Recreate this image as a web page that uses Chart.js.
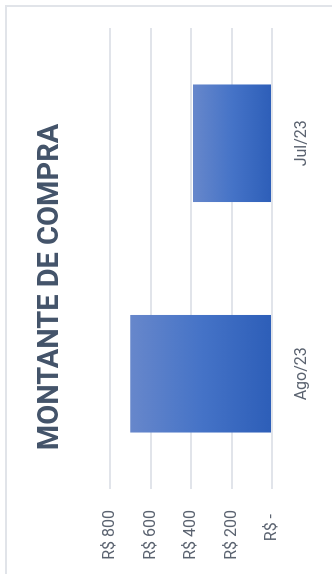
<!DOCTYPE html>
<html>
<head>
<meta charset="utf-8">
<script src="https://cdn.jsdelivr.net/npm/chart.js@4/dist/chart.umd.min.js"></script>
<style>
  html, body { margin: 0; padding: 0; background: #ffffff; overflow: hidden; }
  body { width: 332px; height: 574px; position: relative; }
  #frame {
    position: absolute; left: 5px; top: 5px; width: 420px; height: 700px;
    border: 2px solid #e1e4e9; box-sizing: border-box;
  }
  /* chart is drawn upright then turned a quarter turn to the left */
  #holder {
    position: absolute; left: 0; top: 574px; width: 574px; height: 332px;
    transform-origin: 0 0; transform: rotate(-90deg);
  }
</style>
</head>
<body>
<div id="frame"></div>
<div id="holder"><canvas id="myChart" width="574" height="332"></canvas></div>
<script>
// data
const months = ['Ago/23', 'Jul/23'];
const amounts = [700, 390];
const valueTicks = [0, 200, 400, 600, 800];

const fontFamily = "Roboto, 'Liberation Sans', sans-serif";

function barGradient(context) {
  const chart = context.chart;
  if (!chart.chartArea || context.type !== 'data') return '#4472c4';
  const yScale = chart.scales.y;
  const base = yScale.getPixelForValue(0);
  const top = yScale.getPixelForValue(context.raw);
  const g = chart.ctx.createLinearGradient(0, base, 0, top);
  g.addColorStop(0, '#2d5eb8');
  g.addColorStop(0.5, '#4573c7');
  g.addColorStop(1, '#6787cb');
  return g;
}

function moneyLabel(v) {
  if (v === 0) return 'R$ - ';
  return 'R$ ' + v;
}

const config = {
  type: 'bar',
  data: {
    labels: months,
    datasets: [{
      label: 'Montante de compra',
      data: amounts,
      backgroundColor: barGradient,
      borderWidth: 0,
      barPercentage: 0.51,
      categoryPercentage: 1
    }]
  },
  options: {
    responsive: false,
    animation: false,
    devicePixelRatio: 1,
    layout: { padding: 0 },
    plugins: {
      legend: { display: false },
      tooltip: { enabled: false },
      title: {
        display: true,
        text: 'MONTANTE DE COMPRA',
        color: '#44546a',
        font: { family: fontFamily, size: 29, weight: 'bold', lineHeight: 1.2 },
        padding: { top: 33.6, bottom: 41.6 }
      }
    },
    scales: {
      x: {
        grid: { display: false, drawTicks: false },
        border: { display: false },
        ticks: {
          color: '#5b6370',
          padding: 20,
          maxRotation: 0,
          font: { family: fontFamily, size: 16 }
        },
        afterFit: function(axis) { axis.height = 60; }
      },
      y: {
        min: 0,
        max: 800,
        afterBuildTicks: function(axis) {
          axis.ticks = valueTicks.map(v => ({ value: v }));
        },
        grid: { color: '#e1e4ea', lineWidth: 2, drawTicks: false },
        border: { display: false },
        ticks: {
          color: '#5b6370',
          padding: 21,
          font: { family: fontFamily, size: 16 },
          callback: moneyLabel
        },
        afterFit: function(axis) { axis.width = 85; }
      },
      // empty strip on the right, keeps the plot narrower than the title
      spacer: {
        type: 'linear',
        position: 'right',
        display: true,
        grid: { display: false, drawTicks: false },
        border: { display: false },
        ticks: { display: false },
        afterFit: function(axis) { axis.width = 28; }
      }
    }
  }
};

const myChart = new Chart(document.getElementById('myChart'), config);
</script>
</body>
</html>
